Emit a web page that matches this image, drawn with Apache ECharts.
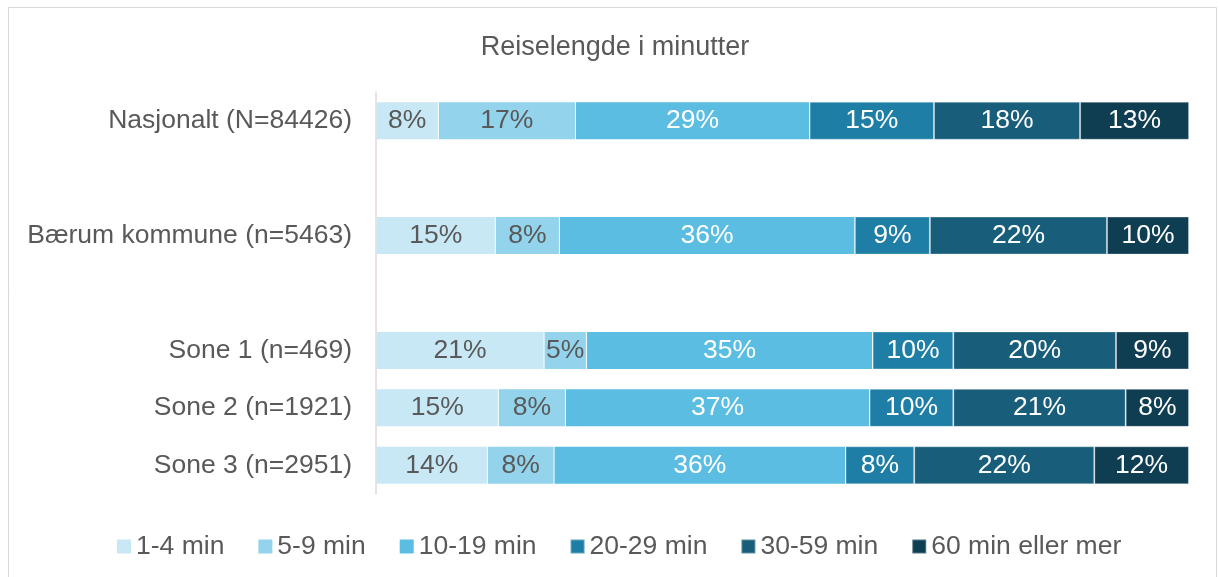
<!DOCTYPE html>
<html>
<head>
<meta charset="utf-8">
<title>Reiselengde i minutter</title>
<script src="https://cdn.jsdelivr.net/npm/echarts@6/dist/echarts.min.js"></script>
<style>
  html, body { margin: 0; padding: 0; background: #fff; }
  #main { width: 1219px; height: 577px; }
</style>
</head>
<body>
<div id="main"></div>
<script>
// kategorier (tomme linjer gir luft mellom gruppene)
var categories = ['Nasjonalt (N=84426)', '', 'Bærum kommune (n=5463)', '', 'Sone 1 (n=469)', 'Sone 2 (n=1921)', 'Sone 3 (n=2951)'];
var seriesNames = ['1-4 min', '5-9 min', '10-19 min', '20-29 min', '30-59 min', '60 min eller mer'];

// andeler i prosent, lest av figuren
var min1_4   = [7.67, null, 14.68, null, 20.67, 15.05, 13.70];
var min5_9   = [16.86, null, 7.88, null, 5.21, 8.25, 8.20];
var min10_19 = [28.80, null, 36.34, null, 35.20, 37.41, 35.85];
var min20_29 = [15.30, null, 9.23, null, 9.93, 10.30, 8.45];
var min30_59 = [17.97, null, 21.78, null, 20.01, 21.20, 22.15];
var min60    = [13.41, null, 10.09, null, 8.98, 7.79, 11.64];

var seriesData = [min1_4, min5_9, min10_19, min20_29, min30_59, min60];
var colors = ['#C8E8F5', '#93D3EC', '#5BBDE2', '#1F7EA5', '#185E7B', '#0F3D52'];
var labelColors = ['#595959', '#595959', '#fff', '#fff', '#fff', '#fff'];
var font = "'Liberation Sans', Arial, sans-serif";

var chart = echarts.init(document.getElementById('main'));

var series = [];
for (var i = 0; i < seriesData.length; i++) {
    series.push({
        name: seriesNames[i],
        type: 'bar',
        stack: 'total',
        barWidth: 38,
        data: seriesData[i],
        itemStyle: {
            color: colors[i],
            borderColor: i > 2 ? 'rgba(255,255,255,0.3)' : 'rgba(255,255,255,0)',
            borderWidth: 1
        },
        label: {
            show: true,
            position: 'inside',
            color: labelColors[i],
            fontFamily: font,
            fontSize: 26.5,
            formatter: function (p) {
                return p.value == null ? '' : Math.round(p.value) + '%';
            }
        },
        emphasis: { disabled: true },
        animation: false
    });
}

var option = {
    backgroundColor: '#fff',
    animation: false,
    title: {
        text: 'Reiselengde i minutter',
        left: 610,
        textAlign: 'center',
        top: 29,
        textStyle: {
            fontFamily: font,
            fontSize: 27,
            fontWeight: 'normal',
            color: '#595959'
        }
    },
    legend: {
        data: seriesNames,
        left: 111,
        top: 528,
        itemWidth: 14,
        itemHeight: 14,
        itemGap: 33,
        icon: 'rect',
        textStyle: {
            fontFamily: font,
            fontSize: 26.5,
            color: '#595959'
        }
    },
    grid: {
        left: 376,
        right: 30,
        top: 92,
        bottom: 83
    },
    xAxis: {
        type: 'value',
        min: 0,
        max: 100,
        show: false
    },
    yAxis: {
        type: 'category',
        inverse: true,
        data: categories,
        axisLine: { show: true, lineStyle: { color: '#E3D6DB', width: 1.5 } },
        axisTick: { show: false },
        axisLabel: {
            margin: 24,
            fontFamily: font,
            fontSize: 26.5,
            color: '#595959'
        }
    },
    graphic: [{
        type: 'rect',
        shape: { x: 8.5, y: 7.5, width: 1208, height: 580 },
        style: { fill: 'none', stroke: '#D9D9D9', lineWidth: 1 },
        silent: true
    }],
    series: series
};

chart.setOption(option);
</script>
</body>
</html>
